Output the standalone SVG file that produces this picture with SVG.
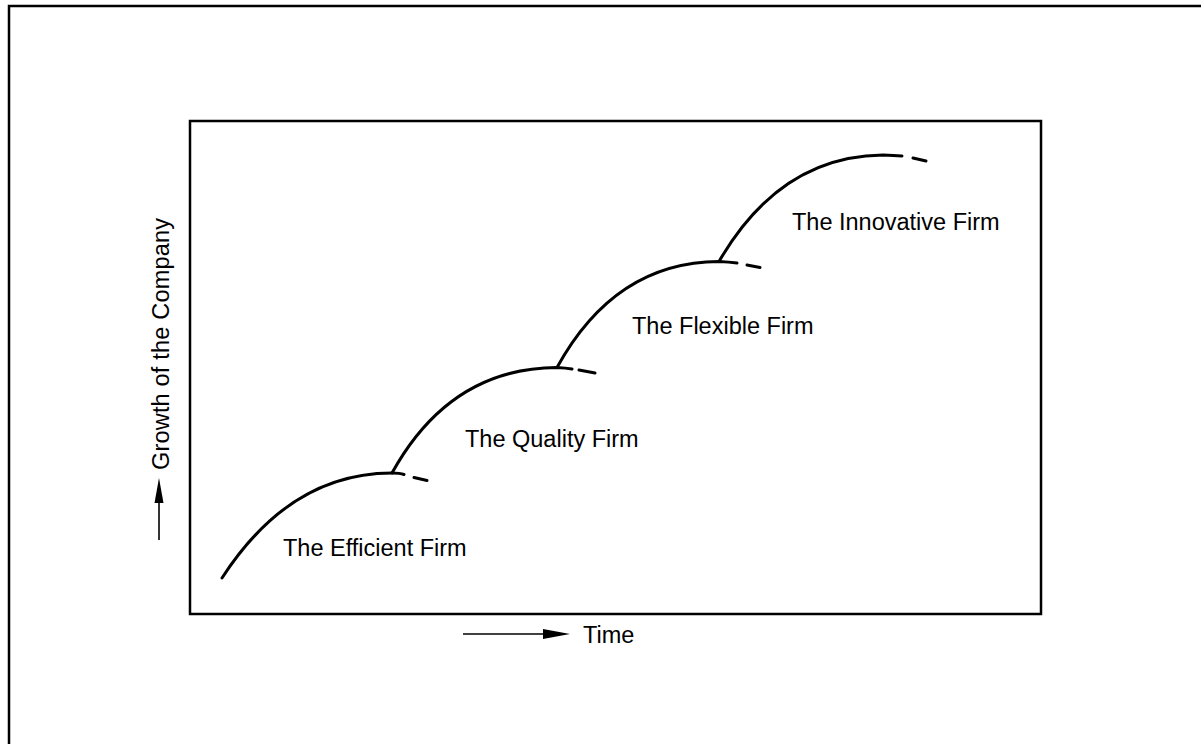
<svg xmlns="http://www.w3.org/2000/svg" width="1201" height="744" viewBox="0 0 1201 744">
  <style>
    .frame { fill: none; stroke: #000; stroke-width: 2.5; }
    .curve { fill: none; stroke: #000; stroke-width: 3; stroke-linecap: round; }
    .axis { fill: none; stroke: #000; stroke-width: 1.6; }
    .label { font-family: "Liberation Sans", Arial, sans-serif; font-size: 23.5px; fill: #000; }
  </style>
  <defs>
    <marker id="head" viewBox="0 0 10 10" refX="10" refY="5" markerWidth="10" markerHeight="10" markerUnits="userSpaceOnUse" orient="auto">
      <path d="M0,0 L10,5 L0,10 z" fill="#000"/>
    </marker>
  </defs>
  <rect width="1201" height="744" fill="#fff"/>

  <!-- page border (open to the right and bottom) -->
  <path class="frame" d="M9,744 V6 H1201"/>
  <!-- chart frame -->
  <rect class="frame" x="190" y="121" width="851" height="493"/>

  <!-- axes -->
  <g id="axes">
    <line x1="159" y1="540" x2="159" y2="503" class="axis"/>
    <path d="M159,478 L154.5,503 L163.5,503 z" fill="#000"/>
    <text class="label" transform="translate(169,470) rotate(-90)" font-size="23" textLength="252" lengthAdjust="spacing">Growth of the Company</text>
    <line x1="463" y1="634" x2="543" y2="634" class="axis"/>
    <path d="M570,634 L543,629 L543,639 z" fill="#000"/>
    <text class="label" x="583" y="643" font-size="23">Time</text>
  </g>

  <!-- growth stages -->
  <g id="connectors">
    <g id="efficient">
      <path class="curve" d="M222,578 Q290,473 392,473 Q400,473 404,474.5"/>
      <path class="curve" d="M414,477.5 L427,480.5"/>
    </g>
    <g id="quality">
      <path class="curve" d="M392,473 Q450,368 557,367.5 Q566,368 572,369"/>
      <path class="curve" d="M579,370 L595,373"/>
    </g>
    <g id="flexible">
      <path class="curve" d="M557,367.5 Q615,262 719,261.5 Q729,262 737,263"/>
      <path class="curve" d="M747,265 L760,267.5"/>
    </g>
    <g id="innovative">
      <path class="curve" d="M719,261.5 Q780,156 883,155 Q894,155.5 902,156"/>
      <path class="curve" d="M913,158 L926,161"/>
    </g>
  </g>

  <g id="label-efficient"><text class="label" x="283" y="556">The Efficient Firm</text></g>
  <g id="label-quality"><text class="label" x="465" y="447">The Quality Firm</text></g>
  <g id="label-flexible"><text class="label" x="632" y="334">The Flexible Firm</text></g>
  <g id="label-innovative"><text class="label" x="792" y="230">The Innovative Firm</text></g>
</svg>
